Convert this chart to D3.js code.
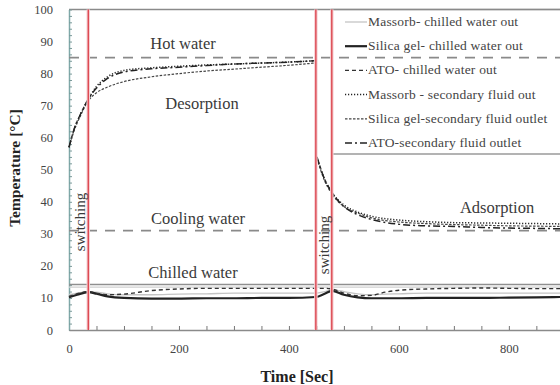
<!DOCTYPE html>
<html><head><meta charset="utf-8">
<script src="https://cdn.jsdelivr.net/npm/d3@7"></script>
<style>body{margin:0;background:#fff}svg{display:block}</style>
</head><body><svg id="c" width="560" height="385"></svg>
<script>
// ---- data ----
const xTicks = [0, 200, 400, 600, 800];
const yTicks = [0, 10, 20, 30, 40, 50, 60, 70, 80, 90, 100];
const switchTimes = [35, 449, 478];
const hotWater = 85, coolingWater = 31, chilledWater = 14.2, chilledWater2 = 13.4;

const tSec = [0, 10, 20, 35, 50, 70, 100, 150, 200, 250, 300, 350, 400, 447, 451, 465, 478, 500, 525, 550, 600, 650, 700, 750, 800, 850, 893];
const massorbSec = [57, 63, 67, 72, 76, 79, 81, 81.8, 82.3, 82.7, 83, 83.3, 83.6, 84, 54, 47, 43, 39, 36.8, 35.5, 34.3, 33.8, 33.5, 33.4, 33.3, 33.2, 33.1];
const silicaSec  = [57, 62.5, 66.5, 71.5, 74, 75.8, 77.5, 79, 80, 80.8, 81.4, 82, 82.6, 83.3, 53.5, 46.5, 42.5, 38.5, 36.5, 35, 33.7, 33.2, 32.9, 32.7, 32.5, 32.4, 32.3];
const atoSec     = [57, 63, 67, 72, 75.5, 78.5, 80.5, 81.5, 82, 82.5, 83, 83.3, 83.6, 84, 54, 47, 43, 38.5, 36, 34.5, 33, 32.5, 32.3, 32, 31.8, 31.7, 31.6];

const tChw = [0, 15, 35, 50, 70, 100, 150, 200, 250, 300, 350, 400, 449, 465, 478, 500, 525, 550, 575, 600, 650, 700, 750, 800, 850, 893];
const massorbChw = [11, 11.5, 12, 11.8, 11.3, 11, 11, 11.2, 11.3, 11.5, 11.5, 11.5, 11.5, 12, 12.5, 12, 11.3, 11, 11.2, 11.3, 11.5, 11.5, 11.5, 11.5, 11.5, 11.5];
const silicaChw  = [10.2, 11, 11.8, 11.3, 10.5, 10, 9.8, 9.8, 9.9, 9.9, 10, 10, 10.3, 11.3, 12.2, 11, 10.2, 9.9, 9.9, 9.9, 10, 10, 10, 10.1, 10.2, 10.3];
const atoChw     = [10.5, 11.3, 12, 11.5, 11, 11.2, 12.3, 12.8, 13, 13, 13, 13, 13, 13, 12.8, 11.5, 10.7, 10.8, 11.8, 12.4, 12.8, 13, 13.1, 13, 12.9, 12.9];

const legendNames = ["Massorb- chilled water out", "Silica gel- chilled water out", "ATO- chilled water out",
  "Massorb - secondary fluid out", "Silica gel-secondary fluid outlet", "ATO-secondary fluid outlet"];

// ---- chart ----
const FONT = "'Liberation Serif', 'DejaVu Serif', serif";
const svg = d3.select("#c");
const x = d3.scaleLinear().domain([0, 893]).range([69, 560]);
const y = d3.scaleLinear().domain([0, 100]).range([330, 9.5]);
const axisCol = "#8a8a8a";

const styles = [
  {stroke: "#c4c4c4", w: 1.3, dash: null},
  {stroke: "#222", w: 2.2, dash: null},
  {stroke: "#333", w: 1.4, dash: "4,3"},
  {stroke: "#222", w: 1.5, dash: "1.2,1.8"},
  {stroke: "#444", w: 1.2, dash: "2.5,1.5"},
  {stroke: "#222", w: 1.5, dash: "7,3,2,3"}
];

// frame
svg.append("line").attr("x1", 69).attr("x2", 560).attr("y1", y(100)).attr("y2", y(100)).attr("stroke", axisCol).attr("stroke-width", 1.5);

// axes
const gy = svg.append("g").attr("transform", "translate(69,0)")
  .call(d3.axisLeft(y).tickValues(yTicks).tickSize(0).tickPadding(16).tickFormat(d3.format("d")));
gy.attr("font-family", null);
gy.select(".domain").attr("stroke", "#7fa9a9").attr("stroke-width", 1.5);
gy.selectAll("text").attr("font-size", 12.5).attr("fill", "#444").style("font-family", FONT);
svg.append("g").attr("transform", "translate(69,0)")
  .call(d3.axisRight(y).tickValues(d3.range(0, 101, 2)).tickSize(3).tickFormat(""))
  .call(g => { g.select(".domain").remove(); g.selectAll("line").attr("stroke", "#7a9a9a"); });

const gx = svg.append("g").attr("transform", "translate(0,330)")
  .call(d3.axisBottom(x).tickValues(xTicks).tickSize(0).tickPadding(14).tickFormat(d3.format("d")));
gx.attr("font-family", null);
gx.select(".domain").attr("stroke", axisCol).attr("stroke-width", 1.5);
gx.selectAll("text").attr("font-size", 12.5).attr("fill", "#444").style("font-family", FONT);
svg.append("g").attr("transform", "translate(0,330)")
  .call(d3.axisTop(x).tickValues(d3.range(50, 893, 50)).tickSize(4).tickFormat(""))
  .call(g => { g.select(".domain").remove(); g.selectAll("line").attr("stroke", "#777"); });

// reference lines
function hline(v, dash, col, w) {
  svg.append("line").attr("x1", x(0)).attr("x2", 560).attr("y1", y(v)).attr("y2", y(v))
    .attr("stroke", col).attr("stroke-width", w).attr("stroke-dasharray", dash);
}
hline(hotWater, "10,8", "#8a8a8a", 1.6);
hline(coolingWater, "10,8", "#8a8a8a", 1.6);
hline(chilledWater2, null, "#cfcfcf", 1.2);
hline(chilledWater, null, "#8f8f8f", 1.5);

// legend box
svg.append("rect").attr("x", x(478)).attr("y", y(100)).attr("width", 560 - x(478) + 5).attr("height", 154 - y(100))
  .attr("fill", "none").attr("stroke", axisCol).attr("stroke-width", 1.3);

// series
const line = d3.line().x(d => x(d[0])).y(d => y(d[1])).curve(d3.curveMonotoneX);
function seg(ts, vs, i0, i1) { const a = []; for (let i = i0; i < i1; i++) a.push([ts[i], vs[i]]); return a; }
[massorbChw, silicaChw, atoChw].forEach((vs, k) => {
  const s = styles[k];
  svg.append("path").attr("d", line(seg(tChw, vs, 0, tChw.length))).attr("fill", "none")
    .attr("stroke", s.stroke).attr("stroke-width", s.w).attr("stroke-dasharray", s.dash);
});
[massorbSec, silicaSec, atoSec].forEach((vs, k) => {
  const s = styles[k + 3];
  [[0, 14], [14, tSec.length]].forEach(([a, b]) => {
    svg.append("path").attr("d", line(seg(tSec, vs, a, b))).attr("fill", "none")
      .attr("stroke", s.stroke).attr("stroke-width", s.w).attr("stroke-dasharray", s.dash);
  });
});

// switching lines
switchTimes.forEach(t => {
  svg.append("line").attr("x1", x(t)).attr("x2", x(t)).attr("y1", y(100)).attr("y2", 330)
    .attr("stroke", "#f6d0d3").attr("stroke-width", 3.5);
  svg.append("line").attr("x1", x(t)).attr("x2", x(t)).attr("y1", y(100)).attr("y2", 330)
    .attr("stroke", "#d8313c").attr("stroke-width", 1.2);
});

// legend
legendNames.forEach((n, i) => {
  const yy = 22 + i * 24.2;
  const s = styles[i];
  svg.append("line").attr("x1", 345).attr("x2", 367).attr("y1", yy).attr("y2", yy)
    .attr("stroke", s.stroke).attr("stroke-width", s.w).attr("stroke-dasharray", s.dash);
  svg.append("text").attr("x", 368).attr("y", yy + 4).attr("font-size", 13.5).attr("fill", "#444")
    .attr("letter-spacing", 0.2).style("font-family", FONT).text(n);
});

// annotations
function label(t, cx, cy, size) {
  svg.append("text").attr("x", cx).attr("y", cy).attr("text-anchor", "middle").attr("dominant-baseline", "central")
    .attr("font-size", size).attr("fill", "#3a3a3a").style("font-family", FONT).text(t);
}
label("Hot water", 183, 43, 16.5);
label("Desorption", 202, 103, 16.5);
label("Cooling water", 198, 218, 16.5);
label("Chilled water", 193, 272, 16.5);
label("Adsorption", 497, 207, 16.5);
[[80, 222], [324, 245]].forEach(([cx, cy]) => {
  svg.append("text").attr("transform", `translate(${cx},${cy}) rotate(-90)`).attr("text-anchor", "middle")
    .attr("dominant-baseline", "central").attr("font-size", 15).attr("fill", "#3a3a3a")
    .style("font-family", FONT).text("switching");
});

// axis titles
svg.append("text").attr("transform", "translate(14,168) rotate(-90)").attr("text-anchor", "middle")
  .attr("dominant-baseline", "central").attr("font-size", 15.5).attr("font-weight", "bold").attr("fill", "#222")
  .style("font-family", FONT).text("Temperature [°C]");
svg.append("text").attr("x", 297).attr("y", 376).attr("text-anchor", "middle").attr("dominant-baseline", "central")
  .attr("font-size", 16).attr("font-weight", "bold").attr("fill", "#222").style("font-family", FONT).text("Time [Sec]");
</script></body></html>
